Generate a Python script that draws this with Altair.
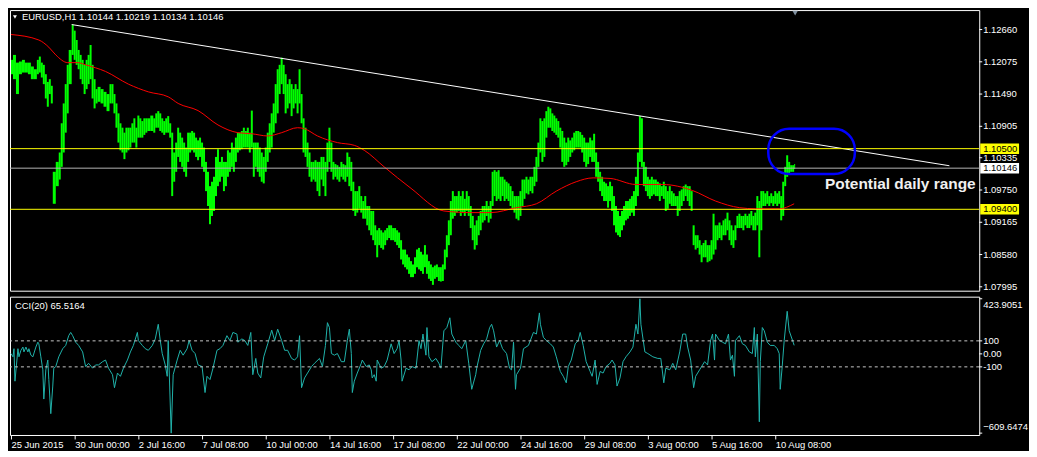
import altair as alt
import pandas as pd

FONT = "Liberation Sans"
W, H1, H2 = 974, 282, 139

# ---------------- price bars (hourly, bar index, high, low) ----------------
bar_index = [0, 2, 5, 8, 11, 14, 17, 20, 23, 26,
             28, 30, 32, 34, 36, 38, 40, 42, 45, 48,
             50, 52, 54, 56, 58, 61, 63, 65, 67, 69,
             71, 73, 75, 77, 79, 81, 83, 85, 87, 90,
             93, 96, 99, 101, 103, 105, 107, 109, 111, 113,
             115, 117, 119, 121, 123, 125, 127, 129, 131, 133,
             135, 137, 140, 143] + list(range(145, 788, 2))

bar_high = [1.1211, 1.1220, 1.1206, 1.1208, 1.1211, 1.1206, 1.1206, 1.1199, 1.1194, 1.1211,
            1.1217, 1.1206, 1.1202, 1.1185, 1.1171, 1.1176, 1.1164, 1.1008, 1.1026, 1.1043,
            1.1096, 1.1132, 1.1167, 1.1202, 1.1229, 1.1275, 1.1264, 1.1247, 1.1229, 1.1220,
            1.1211, 1.1202, 1.1211, 1.1220, 1.1238, 1.1202, 1.1176, 1.1158, 1.1162, 1.1158,
            1.1153, 1.1149, 1.1167, 1.1167, 1.1149, 1.1132, 1.1114, 1.1096, 1.1088, 1.1079,
            1.1088, 1.1088, 1.1088, 1.1096, 1.1105, 1.1088, 1.1110, 1.1105, 1.1100, 1.1105,
            1.1105, 1.1105, 1.1110, 1.1105,
            1.1114, 1.1118, 1.1114, 1.1105, 1.1100, 1.1105, 1.1109, 1.1096, 1.1079, 1.1043,
            1.1061, 1.1088, 1.1079, 1.1070, 1.1061, 1.1052, 1.1079, 1.1079, 1.1082, 1.1079,
            1.1070, 1.1065, 1.1070, 1.1061, 1.1052, 1.1026, 1.1008, 1.0982, 1.0990, 1.0999,
            1.1035, 1.1049, 1.1026, 1.1035, 1.1026, 1.1026, 1.1047, 1.1043, 1.1061, 1.1052,
            1.1070, 1.1079, 1.1079, 1.1082, 1.1088, 1.1082, 1.1088, 1.1079, 1.1119, 1.1061,
            1.1061, 1.1061, 1.1052, 1.1043, 1.1035, 1.1052, 1.1079, 1.1096, 1.1114, 1.1132,
            1.1167, 1.1194, 1.1202, 1.1215, 1.1202, 1.1185, 1.1167, 1.1176, 1.1167, 1.1158,
            1.1167, 1.1158, 1.1194, 1.1149, 1.1105, 1.1088, 1.1061, 1.1043, 1.1026, 1.1026,
            1.1029, 1.1026, 1.1026, 1.1035, 1.1035, 1.1026, 1.1061, 1.1088, 1.1061, 1.1026,
            1.1022, 1.1020, 1.1017, 1.1026, 1.1022, 1.1020, 1.1043, 1.1035, 1.1026, 1.0990,
            1.0973, 1.0973, 1.0982, 1.0964, 1.0955, 1.0964, 1.0946, 1.0946, 1.0937, 1.0937,
            1.0911, 1.0902, 1.0906, 1.0902, 1.0898, 1.0902, 1.0906, 1.0911, 1.0911, 1.0906,
            1.0906, 1.0902, 1.0898, 1.0884, 1.0867, 1.0867, 1.0858, 1.0853, 1.0846, 1.0840,
            1.0853, 1.0867, 1.0870, 1.0863, 1.0858, 1.0875, 1.0858, 1.0846, 1.0840, 1.0835,
            1.0838, 1.0840, 1.0835, 1.0835, 1.0840, 1.0867, 1.0893, 1.0920, 1.0955, 1.0973,
            1.0964, 1.0964, 1.0973, 1.0964, 1.0973, 1.0959, 1.0973, 1.0964, 1.0946, 1.0928,
            1.0911, 1.0920, 1.0928, 1.0937, 1.0946, 1.0946, 1.0955, 1.0946, 1.0955, 1.1008,
            1.1011, 1.1008, 1.1011, 1.0999, 1.0999, 1.0994, 1.0990, 1.0987, 1.0982, 1.0973,
            1.0964, 1.0964, 1.0964, 1.0973, 1.0994, 1.0994, 1.0999, 1.0994, 1.0999, 1.0999,
            1.1017, 1.1035, 1.1061, 1.1105, 1.1100, 1.1105, 1.1118, 1.1126, 1.1123, 1.1114,
            1.1110, 1.1105, 1.1100, 1.1088, 1.1082, 1.1070, 1.1061, 1.1070, 1.1065, 1.1070,
            1.1079, 1.1082, 1.1082, 1.1080, 1.1075, 1.1070, 1.1061, 1.1061, 1.1070, 1.1065,
            1.1077, 1.1043, 1.1026, 1.1008, 1.0999, 1.0990, 1.0987, 1.0982, 1.0990, 1.0982,
            1.0964, 1.0946, 1.0937, 1.0928, 1.0937, 1.0946, 1.0955, 1.0955, 1.0959, 1.0964,
            1.0973, 1.0999, 1.1043, 1.1109, 1.1105, 1.1026, 1.1017, 1.0999, 1.0994, 1.0999,
            1.0994, 1.0994, 1.0990, 1.0987, 1.0982, 1.0990, 1.0982, 1.0973, 1.0982, 1.0973,
            1.0969, 1.0964, 1.0964, 1.0973, 1.0976, 1.0982, 1.0985, 1.0982, 1.0982, 1.0973,
            1.0911, 1.0893, 1.0893, 1.0884, 1.0875, 1.0879, 1.0884, 1.0875, 1.0875, 1.0884,
            1.0932, 1.0911, 1.0911, 1.0916, 1.0911, 1.0920, 1.0923, 1.0934, 1.0920, 1.0911,
            1.0902, 1.0911, 1.0928, 1.0932, 1.0928, 1.0928, 1.0932, 1.0928, 1.0932, 1.0937,
            1.0928, 1.0934, 1.0964, 1.0955, 1.0973, 1.0973, 1.0969, 1.0973, 1.0964, 1.0969,
            1.0964, 1.0973, 1.0969, 1.0973, 1.0964, 1.0990, 1.1017, 1.1038, 1.1026, 1.1020,
            1.1020, 1.1022]

bar_low = [1.1185, 1.1176, 1.1149, 1.1185, 1.1188, 1.1188, 1.1185, 1.1176, 1.1176, 1.1185,
           1.1188, 1.1179, 1.1167, 1.1141, 1.1126, 1.1149, 1.1132, 1.0950, 1.0982, 1.0994,
           1.1017, 1.1043, 1.1079, 1.1114, 1.1167, 1.1220, 1.1211, 1.1202, 1.1194, 1.1176,
           1.1167, 1.1149, 1.1158, 1.1167, 1.1176, 1.1141, 1.1123, 1.1132, 1.1135, 1.1132,
           1.1126, 1.1118, 1.1132, 1.1132, 1.1114, 1.1088, 1.1061, 1.1047, 1.1043, 1.1031,
           1.1043, 1.1047, 1.1052, 1.1061, 1.1061, 1.1052, 1.1070, 1.1070, 1.1070, 1.1075,
           1.1079, 1.1082, 1.1082, 1.1079,
           1.1088, 1.1088, 1.1082, 1.1079, 1.1075, 1.1079, 1.1079, 1.1070, 1.0964, 1.0990,
           1.1008, 1.1035, 1.1026, 1.1017, 1.1008, 1.0999, 1.1026, 1.1043, 1.1047, 1.1043,
           1.1035, 1.1029, 1.1035, 1.1017, 1.1008, 1.0973, 1.0946, 1.0913, 1.0928, 1.0937,
           1.0964, 1.0982, 1.0990, 1.0999, 1.0973, 1.0982, 1.0999, 1.1008, 1.1017, 1.1008,
           1.1026, 1.1043, 1.1047, 1.1049, 1.1052, 1.1052, 1.1052, 1.1043, 1.1052, 1.0999,
           1.1017, 1.1008, 1.0999, 1.0990, 1.0987, 1.1008, 1.1026, 1.1043, 1.1052, 1.1079,
           1.1096, 1.1114, 1.1149, 1.1167, 1.1149, 1.1114, 1.1123, 1.1132, 1.1109, 1.1123,
           1.1132, 1.1114, 1.1132, 1.1096, 1.1043, 1.1035, 1.1017, 1.0999, 1.0990, 1.0994,
           1.0990, 1.0973, 1.0964, 1.0994, 1.0982, 1.0964, 1.1008, 1.1026, 1.1008, 1.0994,
           1.0999, 1.0994, 1.0990, 1.0999, 1.0994, 1.0990, 1.0999, 1.0982, 1.0973, 1.0937,
           1.0928, 1.0934, 1.0941, 1.0934, 1.0923, 1.0923, 1.0911, 1.0902, 1.0893, 1.0884,
           1.0875, 1.0853, 1.0875, 1.0870, 1.0867, 1.0875, 1.0884, 1.0888, 1.0884, 1.0884,
           1.0881, 1.0875, 1.0870, 1.0849, 1.0840, 1.0835, 1.0831, 1.0823, 1.0817, 1.0817,
           1.0823, 1.0835, 1.0831, 1.0828, 1.0823, 1.0835, 1.0823, 1.0814, 1.0810, 1.0803,
           1.0814, 1.0817, 1.0810, 1.0809, 1.0810, 1.0831, 1.0853, 1.0875, 1.0893, 1.0923,
           1.0928, 1.0934, 1.0937, 1.0928, 1.0934, 1.0928, 1.0937, 1.0928, 1.0906, 1.0884,
           1.0867, 1.0875, 1.0893, 1.0902, 1.0916, 1.0920, 1.0928, 1.0916, 1.0923, 1.0946,
           1.0964, 1.0955, 1.0959, 1.0955, 1.0964, 1.0955, 1.0959, 1.0955, 1.0946, 1.0941,
           1.0934, 1.0923, 1.0920, 1.0928, 1.0946, 1.0959, 1.0969, 1.0967, 1.0973, 1.0969,
           1.0982, 1.0990, 1.1017, 1.1043, 1.1026, 1.1035, 1.1070, 1.1088, 1.1088, 1.1082,
           1.1079, 1.1075, 1.1070, 1.1052, 1.1026, 1.1017, 1.1020, 1.1026, 1.1035, 1.1043,
           1.1047, 1.1052, 1.1052, 1.1052, 1.1043, 1.1026, 1.1017, 1.1022, 1.1035, 1.1026,
           1.1026, 1.0999, 1.0990, 1.0973, 1.0964, 1.0955, 1.0955, 1.0943, 1.0955, 1.0937,
           1.0911, 1.0898, 1.0893, 1.0890, 1.0902, 1.0911, 1.0920, 1.0923, 1.0928, 1.0934,
           1.0928, 1.0946, 1.0964, 1.1026, 1.1017, 1.0982, 1.0973, 1.0964, 1.0959, 1.0964,
           1.0967, 1.0964, 1.0964, 1.0955, 1.0964, 1.0959, 1.0937, 1.0941, 1.0950, 1.0946,
           1.0946, 1.0946, 1.0928, 1.0937, 1.0946, 1.0955, 1.0964, 1.0955, 1.0946, 1.0937,
           1.0875, 1.0867, 1.0870, 1.0858, 1.0844, 1.0853, 1.0853, 1.0844, 1.0846, 1.0849,
           1.0858, 1.0867, 1.0884, 1.0888, 1.0884, 1.0893, 1.0893, 1.0902, 1.0884, 1.0875,
           1.0870, 1.0884, 1.0906, 1.0906, 1.0906, 1.0902, 1.0911, 1.0906, 1.0906, 1.0911,
           1.0902, 1.0902, 1.0911, 1.0853, 1.0902, 1.0946, 1.0946, 1.0950, 1.0946, 1.0951,
           1.0946, 1.0950, 1.0946, 1.0950, 1.0920, 1.0928, 1.0982, 1.0999, 1.1004, 1.1008,
           1.1008, 1.1013]

# ---------------- moving average (red) ----------------
ma_bar = [0, 28, 38, 45, 57, 67, 75, 95, 118, 138,
          158, 168, 188, 208, 228, 242, 258, 272, 288, 295,
          308, 328, 345, 355, 375, 402, 435, 462, 482, 508,
          528, 548, 568, 585, 602, 628, 655, 685, 708, 732,
          748, 772, 787]
ma_val = [1.1257, 1.1247, 1.1234, 1.1220, 1.1206, 1.1206, 1.1202, 1.1190, 1.1167, 1.1153,
          1.1144, 1.1132, 1.1119, 1.1093, 1.1079, 1.1077, 1.1073, 1.1079, 1.1088, 1.1086,
          1.1073, 1.1061, 1.1056, 1.1047, 1.1017, 1.0978, 1.0937, 1.0934, 1.0934, 1.0943,
          1.0950, 1.0973, 1.0990, 1.0997, 1.0996, 1.0985, 1.0985, 1.0974, 1.0955, 1.0943,
          1.0941, 1.0941, 1.0950]

# ---------------- annotations ----------------
trend_bar = [61, 943]
trend_price = [1.1275, 1.1019]
level_yellow = [1.1050, 1.0940]
last_price = [1.10146]
range_box_bar = [761, 848]
range_box_price = [1.1004, 1.1086]
note_bar = [818]
note_price = [1.0985]
note_text = ["Potential daily range"]
shift_bar = [788]
title_text = ["EURUSD,H1  1.10144 1.10219 1.10134 1.10146"]
price_axis_values = [1.12660, 1.12075, 1.11490, 1.10905, 1.10335, 1.09750, 1.09165, 1.08580, 1.07995]

# ---------------- CCI(20) ----------------
cci_bar = [0, 2, 3, 4, 7, 8, 10, 12, 13, 15, 17, 18, 20, 22, 25, 27, 28, 30, 32, 33,
           35, 37, 38, 40, 42, 43, 45, 48, 52, 55, 58, 60, 62, 65, 68, 72, 75, 78, 82, 85,
           88, 92, 95, 98, 102, 104, 107, 110, 113, 117, 120, 123, 127, 128, 132, 135, 138, 142, 145, 148,
           150, 152, 155, 157, 158, 161, 163, 167, 170, 173, 177, 179, 182, 185, 188, 192, 195, 197, 200, 203,
           207, 210, 213, 217, 220, 223, 227, 228, 232, 235, 238, 241, 243, 246, 248, 251, 254, 258, 262, 265,
           268, 272, 275, 278, 282, 285, 288, 290, 292, 295, 298, 302, 305, 310, 313, 316, 318, 320, 322, 325,
           328, 332, 335, 338, 340, 342, 343, 345, 348, 352, 353, 357, 360, 362, 363, 365, 367, 368, 372, 375,
           378, 382, 385, 388, 390, 392, 393, 397, 400, 403, 407, 410, 412, 414, 417, 418, 420, 423, 427, 430,
           432, 435, 438, 441, 443, 447, 450, 453, 457, 460, 463, 467, 468, 472, 475, 478, 481, 483, 485, 488,
           491, 494, 498, 501, 503, 505, 507, 508, 512, 515, 520, 525, 528, 531, 532, 535, 538, 542, 545, 548,
           552, 555, 558, 560, 563, 567, 570, 572, 575, 578, 582, 584, 587, 589, 592, 595, 598, 602, 604, 607,
           609, 612, 615, 618, 622, 625, 628, 630, 632, 633, 637, 640, 645, 650, 653, 656, 658, 662, 665, 668,
           672, 675, 678, 680, 683, 686, 688, 692, 697, 700, 703, 705, 707, 708, 712, 715, 718, 721, 723, 725,
           727, 728, 732, 735, 738, 742, 745, 747, 748, 750, 752, 753, 755, 757, 760, 763, 767, 770, 772, 773,
           775, 777, 780, 782, 786, 787]
cci_val = [2.5, -22.5, 40, -210, 40, -22.5, 27.5, 52.5, 15, 52.5, 15, 40, -10, -22.5, 52.5, 90, 77.5, -22.5, -122.5, -347.5,
           -122.5, -47.5, -197.5, -460, -247.5, -110, -97.5, -22.5, 40, 65, 140, 165, 140, 90, 65, 15, -97.5, -72.5, -110, -85,
           -85, -60, -47.5, -110, -160, -260, -147.5, -172.5, -110, -47.5, 15, 65, 165, 102.5, 65, 40, 27.5, 65, 115, 227.5,
           102.5, 2.5, -85, -172.5, 102.5, -609.6474, -160, -47.5, 27.5, -10, 40, 102.5, 27.5, 2.5, -85, -97.5, -297.5, -172.5, -197.5, -110,
           27.5, 40, 65, 140, 102.5, 165, 152.5, 90, 115, 102.5, 65, 165, -160, -35, -147.5, -185, -22.5, 77.5, 182.5, 102.5,
           190, 102.5, 27.5, 27.5, -35, -47.5, -22.5, 140, -260, -185, -147.5, -97.5, -72.5, -35, -97.5, 65, 240, 202.5, 2.5, -10,
           2.5, -60, -60, 102.5, 190, 2.5, -297.5, -210, -147.5, -72.5, -47.5, -97.5, -85, -122.5, -185, -160, -210, -47.5, -110, -97.5,
           -47.5, 77.5, 2.5, 40, 102.5, -47.5, -210, -110, -122.5, -97.5, -110, 102.5, 40, 152.5, -10, 202.5, -22.5, -60, -35, -72.5,
           -110, 177.5, 202.5, 277.5, 152.5, 90, 65, 40, 102.5, -72.5, -272.5, -160, -110, 27.5, 77.5, 115, 202.5, 227.5, 177.5, 52.5,
           102.5, 40, 2.5, -110, -122.5, 90, -272.5, -160, -110, 40, 65, 165, 152.5, 315, 227.5, 127.5, 102.5, 77.5, 52.5, -22.5,
           -135, -172.5, -222.5, -97.5, -47.5, 77.5, 102.5, 165, 65, -60, -135, -172.5, -47.5, -235, -135, -147.5, -97.5, -72.5, -47.5, -85,
           -247.5, -185, -60, -22.5, 15, 52.5, 227.5, 152.5, 423.9051, 227.5, 15, 2.5, -22.5, -35, -35, -222.5, -110, -122.5, -72.5, -122.5,
           15, 152.5, 152.5, 52.5, -47.5, -260, -172.5, -122.5, -60, -85, 102.5, 152.5, -47.5, 152.5, 102.5, 90, 77.5, 152.5, -47.5, -10,
           -172.5, 102.5, 140, 77.5, 65, 15, 2.5, 202.5, -22.5, 152.5, -522.5, -60, 202.5, 177.5, 90, 65, 65, 40, 2.5, -272.5,
           -97.5, 102.5, 327.5, 177.5, 90, 65.5164]
cci_levels = [100, -100]
cci_mid_values = [100, 0, -100]
cci_mid_text = ["100", "0.00", "-100"]
cci_max = [423.9051]
cci_min = [-609.6474]
cci_text = ["CCI(20) 65.5164"]

time_tick_bar = [0, 64, 128, 192, 256, 320, 384, 448, 512, 576, 640, 704, 768]
time_tick_label = ["25 Jun 2015", "30 Jun 00:00", "2 Jul 16:00", "7 Jul 08:00", "10 Jul 00:00",
                   "14 Jul 16:00", "17 Jul 08:00", "22 Jul 00:00", "24 Jul 16:00", "29 Jul 08:00",
                   "3 Aug 00:00", "5 Aug 16:00", "10 Aug 08:00"]

# ---------------- data frames ----------------
price = pd.DataFrame({"bar": bar_index, "high": bar_high, "low": bar_low})
price["bar_end"] = price["bar"].shift(-1).fillna(price["bar"].iloc[-1] + 1)
ma = pd.DataFrame({"bar": ma_bar, "val": ma_val})
trend = pd.DataFrame({"bar": trend_bar, "val": trend_price})
yel = pd.DataFrame({"val": level_yellow})
last = pd.DataFrame({"val": last_price})
box = pd.DataFrame({"b1": [range_box_bar[0]], "b2": [range_box_bar[1]],
                    "p1": [range_box_price[0]], "p2": [range_box_price[1]]})
note = pd.DataFrame({"bar": note_bar, "val": note_price, "t": note_text})
shift = pd.DataFrame({"bar": shift_bar})
title = pd.DataFrame({"t": title_text})
paxis = pd.DataFrame({"val": price_axis_values})
cci = pd.DataFrame({"bar": cci_bar, "val": cci_val})
cci_lv = pd.DataFrame({"val": cci_levels})
cci_mid = pd.DataFrame({"val": cci_mid_values, "t": cci_mid_text})
cci_hi = pd.DataFrame({"val": cci_max})
cci_lo = pd.DataFrame({"val": cci_min})
cci_t = pd.DataFrame({"t": cci_text})

x_scale = alt.Scale(domain=[-1, W - 1], nice=False, zero=False)
p_scale = alt.Scale(domain=[1.07924, 1.13013], nice=False, zero=False)
c_scale = alt.Scale(domain=[-624, 440], nice=False, zero=False)


def X(f):
    return alt.X(f, scale=x_scale, axis=None)


def PY(f):
    return alt.Y(f, scale=p_scale, axis=None)


def CY(f):
    return alt.Y(f, scale=c_scale, axis=None)


lab = dict(font=FONT, fontSize=9.5)

bars = alt.Chart(price).mark_rect(color="#00ff00").encode(
    x=X("bar:Q"), x2="bar_end:Q", y=PY("low:Q"), y2="high:Q")

ma_line = alt.Chart(ma).mark_line(color="#ff0000", strokeWidth=1, interpolate="monotone").encode(
    x=X("bar:Q"), y=PY("val:Q"))

trend_line = alt.Chart(trend).mark_line(color="white", strokeWidth=1).encode(
    x=X("bar:Q"), y=PY("val:Q"))

yel_rules = alt.Chart(yel).mark_rule(color="#ffff00", strokeWidth=1).encode(y=PY("val:Q"))
last_rule = alt.Chart(last).mark_rule(color="#b4b4b4", strokeWidth=1).encode(y=PY("val:Q"))

ellipse = alt.Chart(box).mark_rect(filled=False, color="#0000ff", strokeWidth=2.5,
                                   cornerRadius=21).encode(
    x=X("b1:Q"), x2="b2:Q", y=PY("p1:Q"), y2="p2:Q")

note_mark = alt.Chart(note).mark_text(align="left", baseline="middle", color="#f0f0f0",
                                      font=FONT, fontSize=15.5, fontWeight="bold").encode(
    x=X("bar:Q"), y=PY("val:Q"), text="t:N")

shift_mark = alt.Chart(shift).mark_point(shape="triangle-down", filled=True, color="#8090a0",
                                         size=30, opacity=1).encode(
    x=X("bar:Q"), y=alt.value(3))

title_mark = alt.Chart(title).mark_text(align="left", baseline="middle", color="white",
                                        font=FONT, fontSize=9.5).encode(
    x=alt.value(12), y=alt.value(7), text="t:N")
tri_mark = alt.Chart(title).mark_point(shape="triangle-down", filled=True, color="white",
                                       size=16, opacity=1).encode(x=alt.value(5), y=alt.value(7))

# right price scale (labels, ticks, highlighted level boxes)
p_ticks = alt.Chart(paxis).mark_rule(color="white").encode(
    x=alt.value(W), x2=alt.value(W + 3), y=PY("val:Q"))
p_labels = alt.Chart(paxis).mark_text(align="left", baseline="middle", color="white", **lab).encode(
    x=alt.value(W + 4), y=PY("val:Q"), text=alt.Text("val:Q", format=".5f"))
yel_box = alt.Chart(yel).transform_calculate(
    lo="datum.val - 0.00095", hi="datum.val + 0.00095").mark_rect(color="#ffff00").encode(
    x=alt.value(W + 1), x2=alt.value(W + 40), y=PY("lo:Q"), y2="hi:Q")
last_box = alt.Chart(last).transform_calculate(
    lo="datum.val - 0.00095", hi="datum.val + 0.00095").mark_rect(color="#ffffff").encode(
    x=alt.value(W + 1), x2=alt.value(W + 40), y=PY("lo:Q"), y2="hi:Q")
yel_text = alt.Chart(yel).mark_text(align="left", baseline="middle", color="black", **lab).encode(
    x=alt.value(W + 4), y=PY("val:Q"), text=alt.Text("val:Q", format=".5f"))
last_text = alt.Chart(last).mark_text(align="left", baseline="middle", color="black", **lab).encode(
    x=alt.value(W + 4), y=PY("val:Q"), text=alt.Text("val:Q", format=".5f"))

top = alt.layer(bars, ma_line, trend_line, yel_rules, last_rule, ellipse, note_mark,
                shift_mark, title_mark, tri_mark, p_ticks, p_labels,
                yel_box, last_box, yel_text, last_text).properties(width=W, height=H1)

# ---------------- CCI panel ----------------
labels_js = "[" + ",".join("'%s'" % s for s in time_tick_label) + "]"
vals_js = "[" + ",".join(str(v) for v in time_tick_bar) + "]"
time_axis = alt.Axis(values=time_tick_bar,
                     labelExpr=labels_js + "[indexof(" + vals_js + ", datum.value)]",
                     labelColor="white", labelFont=FONT, labelFontSize=9.5, labelAlign="left",
                     labelBaseline="top", labelPadding=1, labelFlush=False, labelOverlap=False,
                     tickColor="white", tickSize=4, domain=False, grid=False, title=None)

cci_rules = alt.Chart(cci_lv).mark_rule(color="#c8c8c8", strokeWidth=1, strokeDash=[3, 3]).encode(
    y=CY("val:Q"))
cci_line = alt.Chart(cci).mark_line(color="#20b2aa", strokeWidth=1).encode(
    x=alt.X("bar:Q", scale=x_scale, axis=time_axis), y=CY("val:Q"))
cci_label = alt.Chart(cci_t).mark_text(align="left", baseline="middle", color="white",
                                       font=FONT, fontSize=9.5).encode(
    x=alt.value(5), y=alt.value(9), text="t:N")

c_ticks = alt.layer(
    alt.Chart(cci_mid).mark_rule(color="white").encode(x=alt.value(W), x2=alt.value(W + 3), y=CY("val:Q")),
    alt.Chart(cci_hi).mark_rule(color="white").encode(x=alt.value(W), x2=alt.value(W + 3), y=CY("val:Q")),
    alt.Chart(cci_lo).mark_rule(color="white").encode(x=alt.value(W), x2=alt.value(W + 3), y=CY("val:Q")),
)
c_labels = alt.layer(
    alt.Chart(cci_mid).mark_text(align="left", baseline="middle", color="white", **lab).encode(
        x=alt.value(W + 4), y=CY("val:Q"), text="t:N"),
    alt.Chart(cci_hi).mark_text(align="left", baseline="top", dy=1, color="white", **lab).encode(
        x=alt.value(W + 4), y=CY("val:Q"), text=alt.Text("val:Q", format=".4f")),
    alt.Chart(cci_lo).mark_text(align="left", baseline="bottom", dy=-1, color="white", **lab).encode(
        x=alt.value(W + 4), y=CY("val:Q"), text=alt.Text("val:Q", format=".4f")),
)

bottom = alt.layer(cci_line, cci_rules, cci_label, c_ticks, c_labels).properties(width=W, height=H2)

chart = alt.vconcat(top, bottom, spacing=3).properties(
    padding=0, background="black").configure_view(stroke="white", strokeWidth=1)

chart.save("out.html", embed_options={"renderer": "svg", "actions": False})
